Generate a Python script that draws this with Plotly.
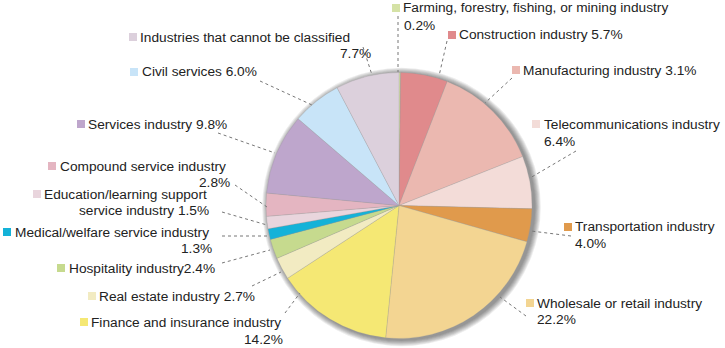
import plotly.graph_objects as go

W, H = 725, 348

categories = [
    "Farming, forestry, fishing, or mining industry",
    "Construction industry",
    "Manufacturing industry",
    "Telecommunications industry",
    "Transportation industry",
    "Wholesale or retail industry",
    "Finance and insurance industry",
    "Real estate industry",
    "Hospitality industry",
    "Medical/welfare service industry",
    "Education/learning support service industry",
    "Compound service industry",
    "Services industry",
    "Civil services",
    "Industries that cannot be classified",
]
# slice sizes as drawn (percent)
values = [0.2, 5.7, 13.1, 6.4, 4.0, 22.2, 14.2, 2.7, 2.4, 1.3, 1.5, 2.8, 9.8, 6.0, 7.7]
# percent texts as printed on the chart
pct_labels = ["0.2%", "5.7%", "3.1%", "6.4%", "4.0%", "22.2%", "14.2%", "2.7%",
              "2.4%", "1.3%", "1.5%", "2.8%", "9.8%", "6.0%", "7.7%"]
colors = ["#d5e2a6", "#e08a8c", "#ebb8b0", "#f3dcd8", "#e09a4c", "#f3d592",
          "#f5e874", "#f2ebc2", "#c6da8e", "#14b2d8", "#e9d5dd", "#e4b5c1",
          "#bea6cc", "#c8e4f8", "#dcd0dc"]

# label layout: first line (text, x, y), second line (text, x, y, anchor), square position, leader line
label_layout = [
    (categories[0], 402, 8, pct_labels[0], 403, 25, "left", (392, 8), [(398, 16), (398, 72)]),
    (categories[1] + " " + pct_labels[1], 458, 35, None, 0, 0, "left", (448, 35), [(447, 41), (439, 76)]),
    (categories[2] + " " + pct_labels[2], 522, 70, None, 0, 0, "left", (512, 70), [(512, 78), (485, 103)]),
    (categories[3], 543, 124, pct_labels[3], 543, 141, "left", (532, 124), [(576, 151), (530, 178)]),
    (categories[4], 574, 227, pct_labels[4], 574, 243, "left", (564, 227), [(571, 236), (531, 231)]),
    (categories[5], 536, 303, pct_labels[5], 536, 319, "left", (526, 303), [(526, 316), (500, 297)]),
    (categories[6], 90, 322, pct_labels[6], 284, 339, "right", (80, 322), [(285, 313), (300, 293)]),
    (categories[7] + " " + pct_labels[7], 98, 296, None, 0, 0, "left", (88, 296), [(252, 286), (281, 272)]),
    ("Hospitality industry" + pct_labels[8], 68, 268, None, 0, 0, "left", (57, 268), [(222, 263), (270, 250)]),
    (categories[9], 14, 232, pct_labels[9], 213, 248, "right", (3, 232), [(222, 236), (267, 236)]),
    ("Education/learning support", 43, 194, "service industry " + pct_labels[10], 210, 210, "right", (33, 194), [(222, 212), (267, 225)]),
    (categories[11], 59, 166, pct_labels[11], 231, 182, "right", (48, 166), [(235, 185), (267, 207)]),
    (categories[12] + " " + pct_labels[12], 87, 124, None, 0, 0, "left", (77, 124), [(218, 133), (275, 153)]),
    (categories[13] + " " + pct_labels[13], 141, 72, None, 0, 0, "left", (130, 72), [(260, 81), (312, 105)]),
    (categories[14], 139, 37, pct_labels[14], 372, 53, "right", (129, 37), [(363, 47), (372, 75)]),
]

def px(x):
    return x / W

def py(y):
    return 1 - y / H

cx, cy, R = 399, 205.5, 133

fig = go.Figure()
fig.add_trace(go.Pie(
    labels=categories,
    values=values,
    sort=False,
    direction="clockwise",
    rotation=0,
    marker=dict(colors=colors, line=dict(color="rgba(150,150,150,0.5)", width=0.5)),
    textinfo="none",
    hoverinfo="label+percent",
    showlegend=False,
    domain=dict(x=[px(cx - R), px(cx + R)], y=[py(cy + R), py(cy - R)]),
))

shapes = []
# soft shadow behind pie
for i in range(1, 8):
    r = R + i * 0.9
    ox, oy = 2.5, 1.5
    shapes.append(dict(
        type="circle", xref="paper", yref="paper", layer="below",
        x0=px(cx + ox - r), x1=px(cx + ox + r), y0=py(cy + oy + r), y1=py(cy + oy - r),
        fillcolor="rgba(0,0,0,0.07)", line=dict(width=0),
    ))

annotations = []
font = dict(family="Liberation Sans, Arial, sans-serif", size=13.7, color="#222222")
for idx, (t1, x1, y1, t2, x2, y2, anc2, sq, line) in enumerate(label_layout):
    annotations.append(dict(text=t1, x=px(x1), y=py(y1), xref="paper", yref="paper",
                            xanchor="left", yanchor="middle", showarrow=False, font=font,
                            borderpad=0))
    if t2:
        annotations.append(dict(text=t2, x=px(x2), y=py(y2), xref="paper", yref="paper",
                                xanchor=anc2, yanchor="middle", showarrow=False, font=font,
                                borderpad=0))
    sx, sy = sq
    shapes.append(dict(type="rect", xref="paper", yref="paper",
                       x0=px(sx), x1=px(sx + 8), y0=py(sy + 4), y1=py(sy - 4),
                       fillcolor=colors[idx], line=dict(width=0)))
    (lx0, ly0), (lx1, ly1) = line
    shapes.append(dict(type="line", xref="paper", yref="paper",
                       x0=px(lx0), y0=py(ly0), x1=px(lx1), y1=py(ly1),
                       line=dict(color="#777777", width=1, dash="dot")))

fig.update_layout(
    width=W, height=H,
    margin=dict(l=0, r=0, t=0, b=0),
    paper_bgcolor="white",
    plot_bgcolor="white",
    shapes=shapes,
    annotations=annotations,
)

fig.write_html("out.html")
